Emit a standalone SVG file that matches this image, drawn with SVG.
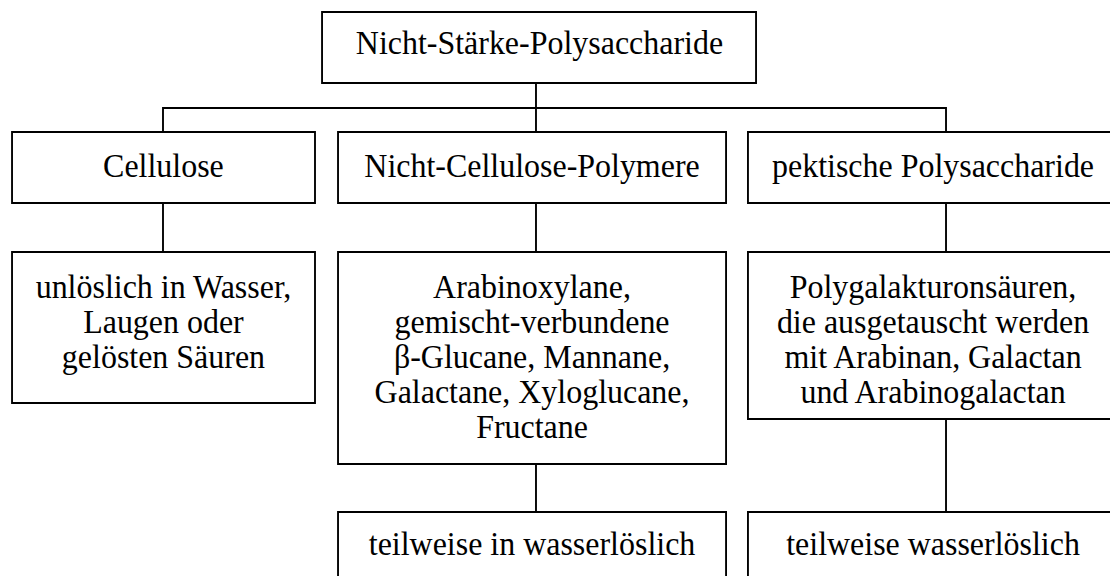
<svg xmlns="http://www.w3.org/2000/svg" width="1110" height="576" viewBox="0 0 1110 576">
<style>
.box{fill:#fff;stroke:#000;stroke-width:2}
.ln{stroke:#000;stroke-width:2;fill:none}
text{font-family:"Liberation Serif","Times New Roman",serif;font-size:34px;fill:#000;text-anchor:middle}
</style>
<rect width="1110" height="576" fill="#fff"/>
<g transform="scale(0.94,1)">
<g id="connectors">
<path class="ln" d="M570.2,83 V132 M173.4,132 V108 H1006.4 V132"/>
<path class="ln" d="M173.4,203 V252 M570.2,203 V252 M1006.4,203 V252"/>
<path class="ln" d="M570.2,464 V512 M1006.4,419 V512"/>
</g>
<g id="n-root"><rect class="box" x="342.6" y="12" width="461.7" height="71"/><text x="573.9" y="54">Nicht-Stärke-Polysaccharide</text></g>
<g id="n-cellulose"><rect class="box" x="12.8" y="132" width="322.3" height="71"/><text x="173.9" y="177">Cellulose</text></g>
<g id="n-ncp"><rect class="box" x="359.6" y="132" width="412.8" height="71"/><text x="566" y="177">Nicht-Cellulose-Polymere</text></g>
<g id="n-pectic"><rect class="box" x="795.7" y="132" width="395.7" height="71"/><text x="992.6" y="177">pektische Polysaccharide</text></g>
<g id="n-cellulose-d"><rect class="box" x="12.8" y="252" width="322.3" height="151"/><text><tspan x="173.9" y="298">unlöslich in Wasser,</tspan><tspan x="173.9" y="333">Laugen oder</tspan><tspan x="173.9" y="368">gelösten Säuren</tspan></text></g>
<g id="n-ncp-d"><rect class="box" x="359.6" y="252" width="412.8" height="212"/><text><tspan x="566" y="298">Arabinoxylane,</tspan><tspan x="566" y="333">gemischt-verbundene</tspan><tspan x="566" y="368">β-Glucane, Mannane,</tspan><tspan x="566" y="403">Galactane, Xyloglucane,</tspan><tspan x="566" y="438">Fructane</tspan></text></g>
<g id="n-pectic-d"><rect class="box" x="795.7" y="252" width="395.7" height="167"/><text><tspan x="992.6" y="298">Polygalakturonsäuren,</tspan><tspan x="992.6" y="333">die ausgetauscht werden</tspan><tspan x="992.6" y="368">mit Arabinan, Galactan</tspan><tspan x="992.6" y="403">und Arabinogalactan</tspan></text></g>
<g id="n-ncp-s"><rect class="box" x="359.6" y="512" width="412.8" height="80"/><text x="566" y="555">teilweise in wasserlöslich</text></g>
<g id="n-pectic-s"><rect class="box" x="795.7" y="512" width="395.7" height="80"/><text x="992.6" y="555">teilweise wasserlöslich</text></g>
</g>
</svg>
